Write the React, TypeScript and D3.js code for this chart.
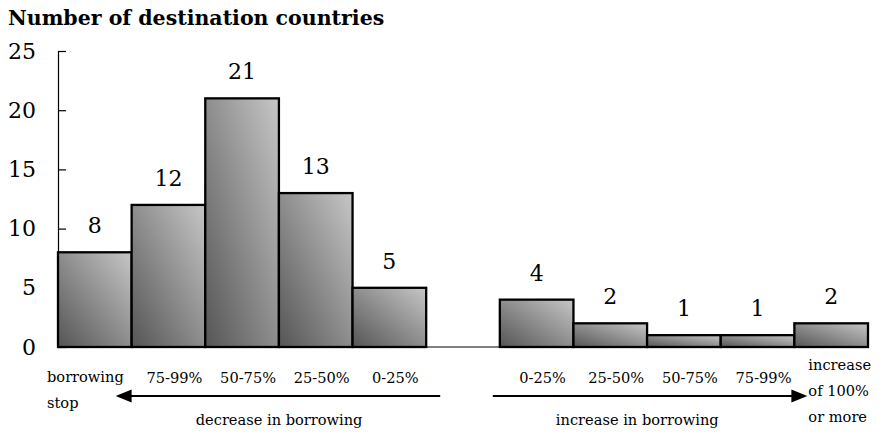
import { useEffect, useRef } from 'react';
import * as d3 from 'd3';

// slots along the x axis, one of them left empty between the two groups
const categories = ['stop', 'd75-99', 'd50-75', 'd25-50', 'd0-25', 'gap', 'i0-25', 'i25-50', 'i50-75', 'i75-99', 'i100'];
const values: (number | null)[] = [8, 12, 21, 13, 5, null, 4, 2, 1, 1, 2];
const tickLabels = ['', '75-99%', '50-75%', '25-50%', '0-25%', '', '0-25%', '25-50%', '50-75%', '75-99%', ''];
const yTicks = [0, 5, 10, 15, 20, 25];

const WIDTH = 885;
const HEIGHT = 436;
// only serif face available in the sandbox
const FONT = "'DejaVu Serif', serif";

export default function App() {
  const svgRef = useRef<SVGSVGElement>(null);

  useEffect(() => {
    document.body.style.margin = '0';
    if (!svgRef.current) return;
    const svg = d3.select(svgRef.current);
    svg.selectAll('*').remove();

    const x = d3.scaleBand<string>().domain(categories).range([58, 868]).padding(0);
    const y = d3.scaleLinear().domain([0, 25]).range([347, 51]);

    // gradient for the bars: dark bottom-left to light top-right
    const defs = svg.append('defs');
    const grad = defs
      .append('linearGradient')
      .attr('id', 'barGrad')
      .attr('x1', 0)
      .attr('y1', 1)
      .attr('x2', 1)
      .attr('y2', 0);
    grad.append('stop').attr('offset', '0%').attr('stop-color', '#555555');
    grad.append('stop').attr('offset', '100%').attr('stop-color', '#c6c6c6');

    // title
    svg
      .append('text')
      .attr('x', 8)
      .attr('y', 25)
      .attr('font-family', FONT)
      .attr('font-weight', 'bold')
      .attr('font-size', '20.5px')
      .attr('fill', '#000')
      .text('Number of destination countries');

    // baseline
    svg
      .append('line')
      .attr('x1', x.range()[0])
      .attr('x2', x.range()[1])
      .attr('y1', y(0))
      .attr('y2', y(0))
      .attr('stroke', '#808080')
      .attr('stroke-width', 2);

    // y axis, ticks pointing inward
    const yAxis = d3
      .axisLeft(y)
      .tickValues(yTicks)
      .tickSizeInner(-8)
      .tickSizeOuter(0)
      .tickPadding(22)
      .tickFormat(d3.format('d'));
    const gy = svg.append('g').attr('transform', `translate(${x.range()[0]},0)`).call(yAxis);
    gy.attr('font-family', FONT);
    gy.select('.domain').attr('stroke', '#000').attr('stroke-width', 1.2);
    gy.selectAll('.tick line').attr('stroke', '#000').attr('stroke-width', 1.2);
    gy.selectAll('.tick text')
      .attr('font-size', '22px')
      .attr('fill', '#000');

    const data = categories
      .map((c, i) => ({ c, v: values[i], label: tickLabels[i] }))
      .filter((d) => d.v !== null) as { c: string; v: number; label: string }[];

    // bars
    svg
      .append('g')
      .selectAll('rect')
      .data(data)
      .enter()
      .append('rect')
      .attr('x', (d) => x(d.c)!)
      .attr('y', (d) => y(d.v))
      .attr('width', x.bandwidth())
      .attr('height', (d) => y(0) - y(d.v))
      .attr('fill', 'url(#barGrad)')
      .attr('stroke', '#000')
      .attr('stroke-width', 2.3);

    // value labels
    svg
      .append('g')
      .selectAll('text')
      .data(data)
      .enter()
      .append('text')
      .attr('x', (d) => x(d.c)! + x.bandwidth() / 2)
      .attr('y', (d) => y(d.v) - 19)
      .attr('text-anchor', 'middle')
      .attr('font-family', FONT)
      .attr('font-size', '22px')
      .attr('fill', '#000')
      .text((d) => d.v);

    // category labels
    svg
      .append('g')
      .selectAll('text')
      .data(data.filter((d) => d.label))
      .enter()
      .append('text')
      .attr('x', (d) => x(d.c)! + x.bandwidth() / 2 + 6)
      .attr('y', 383)
      .attr('text-anchor', 'middle')
      .attr('font-family', FONT)
      .attr('font-size', '14.6px')
      .attr('fill', '#000')
      .text((d) => d.label);

    const multi = (lines: string[], x0: number, y0: number) => {
      const t = svg
        .append('text')
        .attr('font-family', FONT)
        .attr('font-size', '14.6px')
        .attr('fill', '#000');
      lines.forEach((l, i) => {
        t.append('tspan').attr('x', x0).attr('y', y0 + i * 26).text(l);
      });
    };
    multi(['borrowing', 'stop'], x('stop')! - 11, 382);
    multi(['increase', 'of 100%', 'or more'], x('i100')! + 14, 370);

    // arrows
    const arrowY = 396;
    const arrow = (from: number, to: number) => {
      const dir = Math.sign(to - from);
      svg
        .append('line')
        .attr('x1', from)
        .attr('x2', to - dir * 14)
        .attr('y1', arrowY)
        .attr('y2', arrowY)
        .attr('stroke', '#000')
        .attr('stroke-width', 2);
      svg
        .append('path')
        .attr('d', `M${to},${arrowY} L${to - dir * 16},${arrowY - 6.5} L${to - dir * 16},${arrowY + 6.5} Z`)
        .attr('fill', '#000');
    };
    arrow(x('gap')! + 14, x('d75-99')! - 16);
    arrow(x('i0-25')! - 7, x('i100')! + 13);

    // group captions
    const caption = (text: string, cx: number) =>
      svg
        .append('text')
        .attr('x', cx)
        .attr('y', 425)
        .attr('text-anchor', 'middle')
        .attr('font-family', FONT)
        .attr('font-size', '14.6px')
        .attr('fill', '#000')
        .text(text);
    caption('decrease in borrowing', x('d50-75')! + x.bandwidth() / 2 + 37);
    caption('increase in borrowing', x('i25-50')! + x.bandwidth() / 2 + 27);
  }, []);

  return <svg ref={svgRef} width={WIDTH} height={HEIGHT} style={{ display: 'block' }} />;
}
